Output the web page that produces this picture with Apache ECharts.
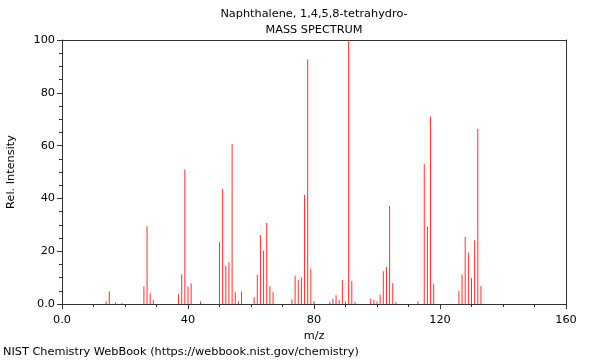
<!DOCTYPE html>
<html>
<head>
<meta charset="utf-8">
<script src="https://cdn.jsdelivr.net/npm/echarts@6/dist/echarts.min.js"></script>
<style>html,body{margin:0;padding:0;background:#fff}#c{width:600px;height:360px}</style>
</head>
<body>
<div id="c"></div>
<script>
var mz = [14,15,17,19,26,27,28,29,37,38,39,40,41,44,50,51,52,53,54,55,56,57,61,62,63,64,65,66,67,73,74,75,76,77,78,79,80,85,86,87,88,89,90,91,92,93,98,99,100,101,102,103,104,105,106,113,115,116,117,118,126,127,128,129,130,131,132,133];
var intensity = [1,4.8,0.5,0.3,6.6,29.5,4,1.5,3.7,11.2,51,6.6,7.8,1,23.4,43.6,14.4,15.8,60.5,4.4,1,4.7,2.6,11.1,26.1,20.2,30.7,6.8,4.5,1.8,10.7,9.1,10.1,41.3,92.7,13.3,1.1,0.8,2,3.3,1.5,9.1,1,100,8.7,0.8,2,1.5,1,3.5,12.4,14,37.1,7.9,0.7,1,53,29.3,71,7.6,5,11.2,25.4,19.4,9.8,24.1,66.4,6.8];
var titleLines = ["Naphthalene, 1,4,5,8-tetrahydro-", "MASS SPECTRUM"];
var xName = "m/z";
var yName = "Rel. Intensity";
var footer = "NIST Chemistry WebBook (https://webbook.nist.gov/chemistry)";

var data = mz.map(function(m, i){ return [m, intensity[i]]; });
var font = "DejaVu Sans";
var tStyle = {fontFamily: font, fontSize: 11.3, fontWeight: 'normal', color: '#000'};
var chart = echarts.init(document.getElementById('c'));
chart.setOption({
  animation: false,
  backgroundColor: '#fff',
  title: [
    {text: titleLines[0], left: 314, top: 9, padding: 0, textAlign: 'center', textStyle: tStyle},
    {text: titleLines[1], left: 314, top: 25, padding: 0, textAlign: 'center', textStyle: tStyle},
    {text: footer, left: 3, top: 347, padding: 0, textStyle: tStyle}
  ],
  grid: {left: 62, right: 34, top: 40, bottom: 56, show: false, containLabel: false, outerBoundsMode: 'none'},
  xAxis: [{
    type: 'value', min: 0, max: 160, interval: 40, position: 'bottom',
    name: xName, nameLocation: 'middle', nameGap: 27,
    nameTextStyle: {fontFamily: font, fontSize: 11.3, color: '#000'},
    axisLine: {show: true, onZero: false, lineStyle: {color: '#333'}},
    axisTick: {show: true, length: 5, lineStyle: {color: '#333'}},
    minorTick: {show: true, splitNumber: 4, length: 3, lineStyle: {color: '#333'}},
    splitLine: {show: false},
    axisLabel: {fontFamily: font, fontSize: 11.3, color: '#000', margin: 11,
      formatter: function(v){ return v === 0 ? '0.0' : String(v); }}
  }, {
    type: 'value', min: 0, max: 160, position: 'top',
    axisLine: {show: true, onZero: false, lineStyle: {color: '#333'}},
    axisTick: {show: false}, axisLabel: {show: false}, splitLine: {show: false}
  }],
  yAxis: [{
    type: 'value', min: 0, max: 100, interval: 20, position: 'left',
    name: yName, nameLocation: 'middle', nameGap: 45, nameRotate: 90,
    nameTextStyle: {fontFamily: font, fontSize: 11.3, color: '#000'},
    axisLine: {show: true, onZero: false, lineStyle: {color: '#333'}},
    axisTick: {show: true, length: 5, lineStyle: {color: '#333'}},
    minorTick: {show: true, splitNumber: 4, length: 3, lineStyle: {color: '#333'}},
    splitLine: {show: false},
    axisLabel: {fontFamily: font, fontSize: 11.3, color: '#000', margin: 7,
      formatter: function(v){ return v === 0 ? '0.0' : String(v); }}
  }, {
    type: 'value', min: 0, max: 100, position: 'right',
    axisLine: {show: true, onZero: false, lineStyle: {color: '#333'}},
    axisTick: {show: false}, axisLabel: {show: false}, splitLine: {show: false}
  }],
  series: [{
    type: 'custom',
    xAxisIndex: 0, yAxisIndex: 0,
    data: data,
    z: 1,
    renderItem: function(params, api){
      var x = api.value(0), y = api.value(1);
      var p0 = api.coord([x, 0]);
      var p1 = api.coord([x, y]);
      return {type: 'line', shape: {x1: p0[0], y1: p0[1], x2: p1[0], y2: p1[1]},
        style: {stroke: '#ff3030', lineWidth: 1}};
    }
  }]
});
</script>
</body>
</html>
